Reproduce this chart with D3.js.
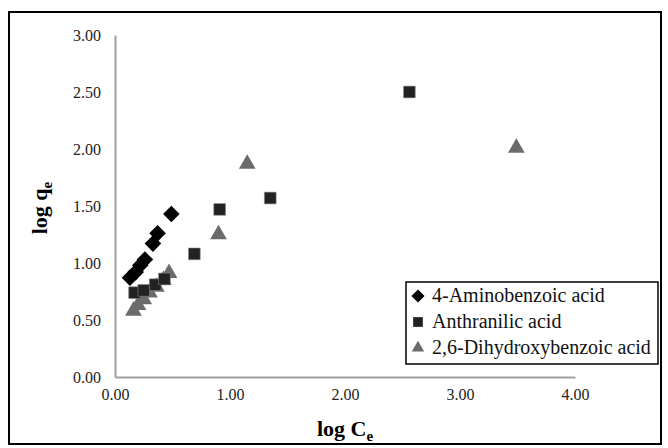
<!DOCTYPE html>
<html>
<head>
<meta charset="utf-8">
<script src="https://cdn.jsdelivr.net/npm/d3@7"></script>
<style>
  body { margin: 0; background: #fff; }
  svg { display: block; }
  svg text { font-family: "Liberation Serif", "Times New Roman", serif; }
  .tick text { font-family: "Liberation Serif", serif !important; font-size: 16px !important; fill: #222; }
</style>
</head>
<body>
<svg id="chart" width="668" height="448"></svg>
<script>
// series: log Ce (x) and log qe (y)
const seriesNames = ['4-Aminobenzoic acid', 'Anthranilic acid', '2,6-Dihydroxybenzoic acid'];
const aminoX = [0.13, 0.18, 0.22, 0.26, 0.33, 0.37, 0.49];
const aminoY = [0.87, 0.92, 0.98, 1.03, 1.17, 1.26, 1.43];
const anthrX = [0.17, 0.25, 0.35, 0.43, 0.69, 0.91, 1.35, 2.56];
const anthrY = [0.74, 0.76, 0.81, 0.86, 1.08, 1.47, 1.57, 2.50];
const dhbaX = [0.16, 0.20, 0.25, 0.30, 0.36, 0.42, 0.47, 0.90, 1.15, 3.49];
const dhbaY = [0.58, 0.63, 0.68, 0.74, 0.79, 0.85, 0.91, 1.25, 1.87, 2.01];
const xTicks = [0, 1, 2, 3, 4];
const yTicks = [0, 0.5, 1, 1.5, 2, 2.5, 3];

const svg = d3.select('#chart');
const W = 668, H = 448;
const margin = { left: 115, right: 93, top: 35, bottom: 71 };

// outer frame
svg.append('rect')
  .attr('x', 9).attr('y', 12)
  .attr('width', 652).attr('height', 432)
  .attr('fill', 'none').attr('stroke', '#000').attr('stroke-width', 2);

const x = d3.scaleLinear().domain([0, 4]).range([margin.left, W - margin.right]);
const y = d3.scaleLinear().domain([0, 3]).range([H - margin.bottom, margin.top]);

// y axis
const yAxis = svg.append('g')
  .attr('transform', `translate(${margin.left},0)`)
  .call(d3.axisLeft(y).tickValues(yTicks).tickFormat(d3.format('.2f')).tickSize(0).tickPadding(14));
yAxis.attr('font-family', null).attr('font-size', null);
yAxis.select('.domain').attr('stroke', '#a0a0a0').attr('stroke-width', 2);

// x axis
const xAxis = svg.append('g')
  .attr('transform', `translate(0,${H - margin.bottom})`)
  .call(d3.axisBottom(x).tickValues(xTicks).tickFormat(d3.format('.2f')).tickSize(0).tickPadding(12));
xAxis.attr('font-family', null).attr('font-size', null);
xAxis.select('.domain').attr('stroke', '#a0a0a0').attr('stroke-width', 2);

// axis titles
const xt = svg.append('text')
  .attr('x', (margin.left + W - margin.right) / 2).attr('y', 436)
  .attr('text-anchor', 'middle').attr('font-size', 22).attr('font-weight', 'bold');
xt.append('tspan').text('log C');
xt.append('tspan').attr('font-size', 15).attr('dy', 5).text('e');

const yt = svg.append('text')
  .attr('transform', 'translate(47,208) rotate(-90)')
  .attr('text-anchor', 'middle').attr('font-size', 22).attr('font-weight', 'bold');
yt.append('tspan').text('log q');
yt.append('tspan').attr('font-size', 15).attr('dy', 5).text('e');

// marks
const sym = [d3.symbolDiamond2, d3.symbolSquare2, d3.symbolTriangle2];
const fills = ['#000', '#222', '#6b6b6b'];
const sizes = [175, 175, 200];

function draw(xs, ys, i) {
  const pts = xs.map((v, k) => [v, ys[k]]);
  svg.append('g').selectAll('path')
    .data(pts)
    .enter().append('path')
    .attr('transform', d => `translate(${x(d[0])},${y(d[1])})`)
    .attr('d', d3.symbol(sym[i]).size(sizes[i]))
    .attr('fill', fills[i])
    .attr('stroke', i === 1 ? '#888' : 'none')
    .attr('stroke-width', 0.6);
}
draw(dhbaX, dhbaY, 2);
draw(anthrX, anthrY, 1);
draw(aminoX, aminoY, 0);

// legend
const lg = svg.append('g').attr('transform', 'translate(406,282)');
lg.append('rect').attr('width', 252).attr('height', 82)
  .attr('fill', '#fff').attr('stroke', '#000').attr('stroke-width', 1.5);
seriesNames.forEach((name, i) => {
  const row = lg.append('g').attr('transform', `translate(0,${14 + i * 26})`);
  row.append('path')
    .attr('transform', 'translate(12,0)')
    .attr('d', d3.symbol(sym[i]).size(i === 1 ? 120 : 110))
    .attr('fill', fills[i]);
  row.append('text').attr('x', 26).attr('y', 6)
    .attr('font-size', 20).attr('fill', '#111').text(name);
});
</script>
</body>
</html>
